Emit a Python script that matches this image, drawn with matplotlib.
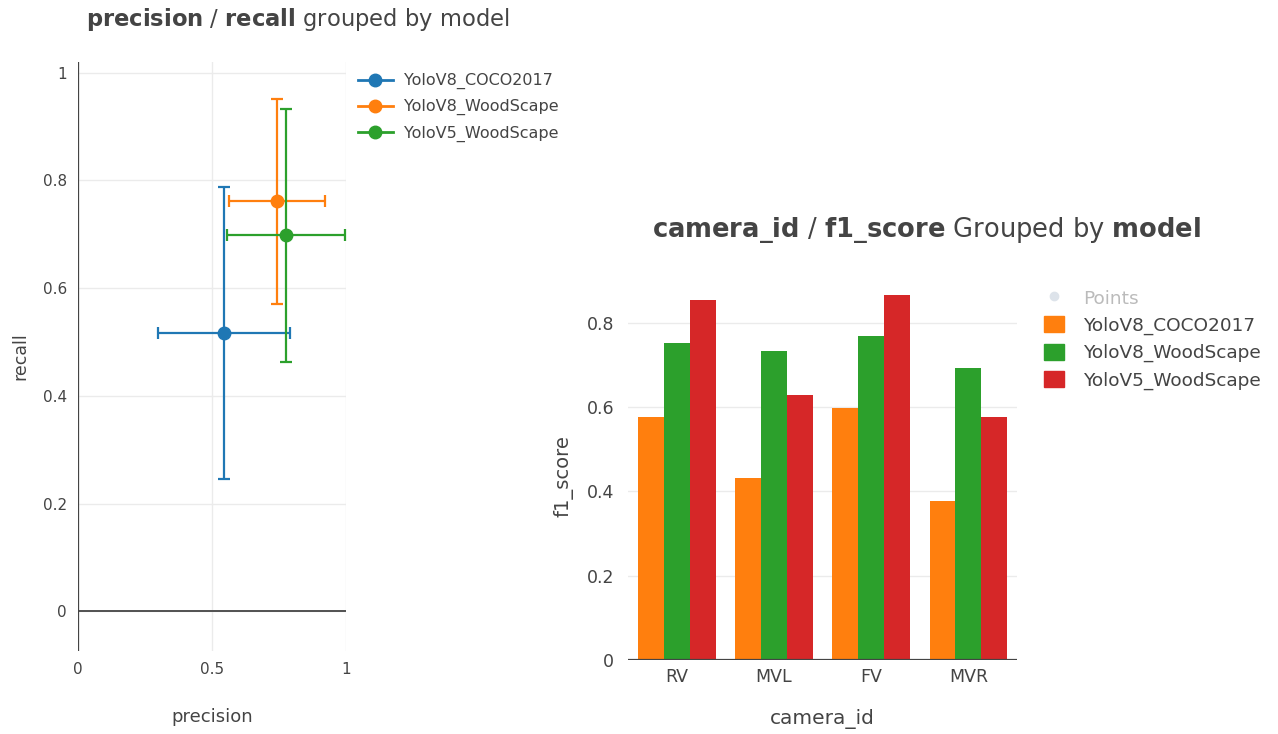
import matplotlib.pyplot as plt
from matplotlib.lines import Line2D
from matplotlib.patches import Patch
import numpy as np

plt.rcParams['font.family'] = ['DejaVu Sans']

# left: precision / recall per model (mean +- error)
models_pr = ['YoloV8_COCO2017', 'YoloV8_WoodScape', 'YoloV5_WoodScape']
precision = [0.545, 0.743, 0.776]
precision_err = [0.248, 0.179, 0.22]
recall = [0.516, 0.761, 0.698]
recall_err = [0.271, 0.19, 0.235]
colors_pr = ['#1f77b4', '#ff7f0e', '#2ca02c']

# right: f1 score per camera
cameras = ['RV', 'MVL', 'FV', 'MVR']
models_f1 = ['YoloV8_COCO2017', 'YoloV8_WoodScape', 'YoloV5_WoodScape']
f1_coco_v8 = [0.577, 0.432, 0.598, 0.377]
f1_wood_v8 = [0.751, 0.733, 0.768, 0.693]
f1_wood_v5 = [0.853, 0.628, 0.865, 0.577]
colors_f1 = ['#ff7f0e', '#2ca02c', '#d62728']

txt = '#444444'
grid = '#ebebeb'

fig = plt.figure(figsize=(12.78, 7.34), dpi=100)

#######################################################
# left scatter with error bars
ax1 = fig.add_axes([0.061, 0.113, 0.2097, 0.8025])
for i in range(len(models_pr)):
    ax1.errorbar(precision[i], recall[i], xerr=precision_err[i], yerr=recall_err[i],
                 fmt='o', color=colors_pr[i], ms=9, elinewidth=1.6, capsize=4.5,
                 capthick=1.6, zorder=3)
ax1.set_xlim(0, 1)
ax1.set_ylim(-0.074, 1.02)
ax1.set_xticks([0, 0.5, 1])
ax1.set_xticklabels(['0', '0.5', '1'])
ax1.set_yticks([0, 0.2, 0.4, 0.6, 0.8, 1])
ax1.set_yticklabels(['0', '0.2', '0.4', '0.6', '0.8', '1'])
ax1.grid(True, color=grid, lw=1)
ax1.set_axisbelow(True)
for s in ax1.spines.values():
    s.set_visible(False)
ax1.axhline(0, color=txt, lw=1.3, zorder=2)
ax1.axvline(0, color=txt, lw=1.6, zorder=2)
ax1.tick_params(length=0, labelsize=11, colors=txt, pad=8)
ax1.set_xlabel('precision', fontsize=13, color=txt, labelpad=22)
ax1.set_ylabel('recall', fontsize=12.5, color=txt)
ax1.yaxis.set_label_coords(-0.182, 0.5)

handles = [Line2D([0], [0], color=c, marker='o', ms=9, lw=2) for c in colors_pr]
ax1.legend(handles, models_pr, loc='upper left', bbox_to_anchor=(1.02, 0.992),
           frameon=False, fontsize=11.5, labelcolor=txt, handlelength=2.2,
           handletextpad=0.7, labelspacing=0.62, borderaxespad=0)

fig.text(0.0673, 0.973, r'$\bf{precision}$ / $\bf{recall}$ grouped by model',
         fontsize=16.3, color=txt, va='center', ha='left')

#######################################################
# right grouped bars
ax2 = fig.add_axes([0.4914, 0.1008, 0.3044, 0.523])
x = np.arange(len(cameras))
w = 0.8 / 3
series = [f1_coco_v8, f1_wood_v8, f1_wood_v5]
for j, vals in enumerate(series):
    ax2.bar(x + (j - 1) * w, vals, width=w, color=colors_f1[j], zorder=3)
ax2.set_xlim(-0.5, 3.5)
ax2.set_ylim(0, 0.91)
ax2.set_xticks(x)
ax2.set_xticklabels(cameras)
ax2.set_yticks([0, 0.2, 0.4, 0.6, 0.8])
ax2.set_yticklabels(['0', '0.2', '0.4', '0.6', '0.8'])
ax2.yaxis.grid(True, color=grid, lw=1)
ax2.set_axisbelow(True)
for s in ax2.spines.values():
    s.set_visible(False)
ax2.axhline(0, color=txt, lw=1.6, zorder=4)
ax2.tick_params(length=0, labelsize=12.5, colors=txt, pad=6)
ax2.tick_params(axis='y', pad=10)
ax2.set_xlabel('camera_id', fontsize=14.5, color=txt, labelpad=16)
ax2.set_ylabel('f1_score', fontsize=14, color=txt)
ax2.yaxis.set_label_coords(-0.139, 0.48)

handles2 = [Line2D([0], [0], color='#dde3ea', marker='o', ls='', ms=6)]
handles2 += [Patch(color=c) for c in colors_f1]
ax2.legend(handles2, ['Points'] + models_f1, loc='upper left',
           bbox_to_anchor=(1.05, 0.985), frameon=False, fontsize=13.3,
           labelcolor=['#bbbbbb', txt, txt, txt], handlelength=1.1,
           handleheight=0.95, handletextpad=1.0, labelspacing=0.48,
           borderaxespad=0)

fig.text(0.51, 0.687, r'$\bf{camera\_id}$ / $\bf{f1\_score}$ Grouped by $\bf{model}$',
         fontsize=18.5, color=txt, va='center', ha='left')

plt.savefig('out.png', dpi=100)
